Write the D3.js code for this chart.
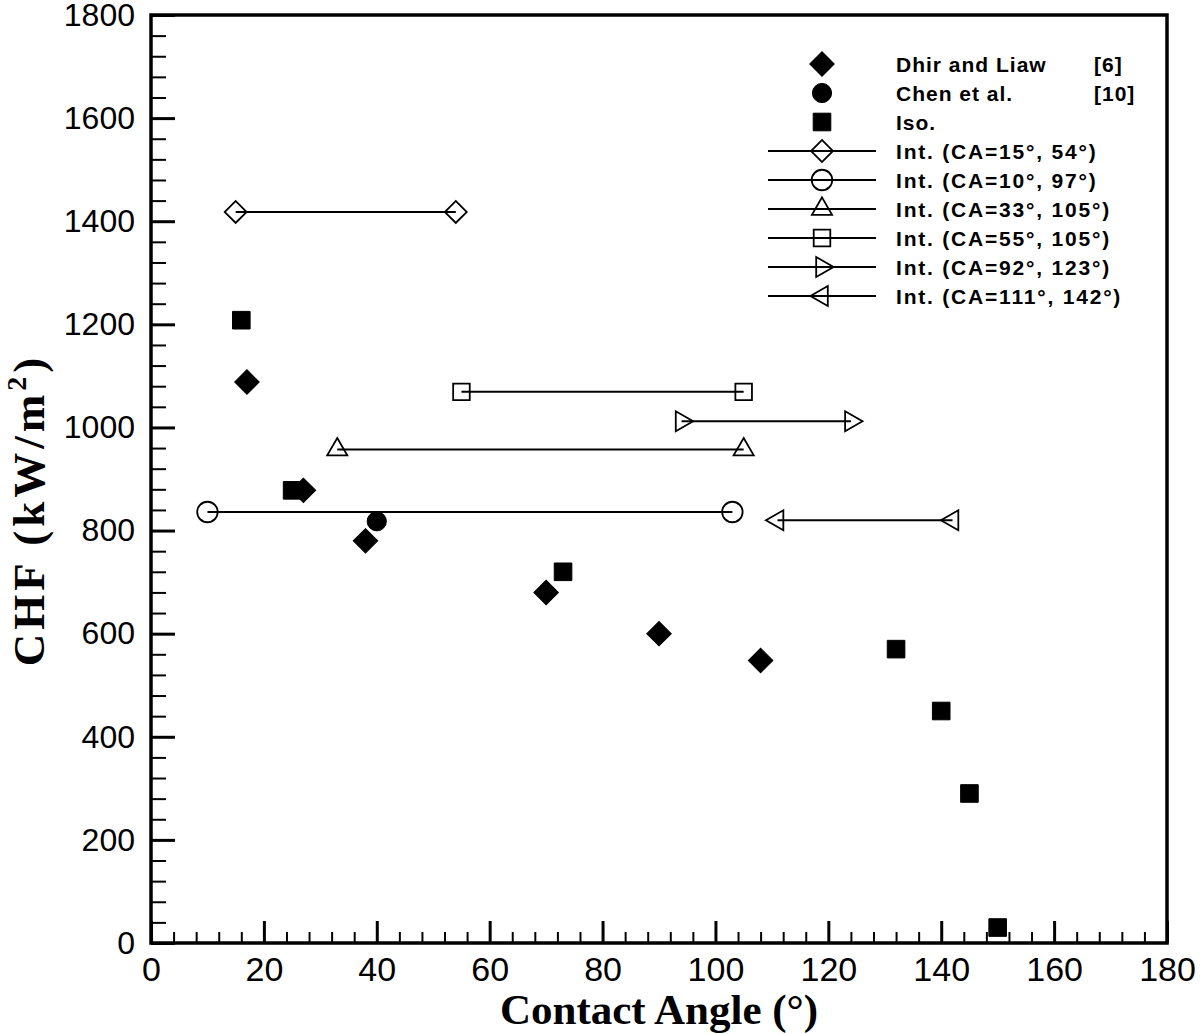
<!DOCTYPE html>
<html><head><meta charset="utf-8">
<script src="https://cdn.jsdelivr.net/npm/d3@7"></script>
<style>
html,body{margin:0;padding:0;background:#fff;}
</style></head>
<body>
<svg id="chart" width="1200" height="1034"></svg>
<script>
// ---- data ----
const xTicks = [0,20,40,60,80,100,120,140,160,180];
const yTicks = [0,200,400,600,800,1000,1200,1400,1600,1800];
const xMinor = d3.range(0,181,4);
const yMinor = d3.range(0,1801,40);

const dhirCA  = [17, 27, 38, 70, 90, 108];
const dhirCHF = [1088, 878, 780, 680, 600, 548];
const chenCA  = [40];
const chenCHF = [818];
const isoCA   = [16, 25, 73, 132, 140, 145, 150];
const isoCHF  = [1208, 878, 720, 570, 450, 290, 30];

const intLabels = ["Int. (CA=15°, 54°)","Int. (CA=10°, 97°)","Int. (CA=33°, 105°)","Int. (CA=55°, 105°)","Int. (CA=92°, 123°)","Int. (CA=111°, 142°)"];
const intLow  = [15, 10, 33, 55, 94, 111];
const intHigh = [54, 103, 105, 105, 124, 142];
const intCHF  = [1418, 836, 957, 1069, 1012, 820];
const intShape = ["diamond","circle","triangle","square","right","left"];

const legendLabels = ["Dhir and Liaw","Chen et al.","Iso."];
const legendRefs = ["[6]","[10]",""];
const legendShape = ["fdiamond","fcircle","fsquare"];

// ---- chart ----
const svg = d3.select("#chart");
const L=151, R=1167, T=15, B=943;
const x = d3.scaleLinear().domain([0,180]).range([L,R]);
const y = d3.scaleLinear().domain([0,1800]).range([B,T]);

function marker(g, shape){
  let p, rot=0, filled=false;
  switch(shape){
    case "fdiamond": p=d3.symbol(d3.symbolSquare,300)(); rot=45; filled=true; break;
    case "fcircle": p=d3.symbol(d3.symbolCircle,290)(); filled=true; break;
    case "fsquare": p=d3.symbol(d3.symbolSquare,310)(); filled=true; break;
    case "diamond": p=d3.symbol(d3.symbolSquare,240)(); rot=45; break;
    case "circle": p=d3.symbol(d3.symbolCircle,330)(); break;
    case "square": p=d3.symbol(d3.symbolSquare,275)(); break;
    case "triangle": p=d3.symbol(d3.symbolTriangle,175)(); break;
    case "right": p=d3.symbol(d3.symbolTriangle,175)(); rot=90; break;
    case "left": p=d3.symbol(d3.symbolTriangle,175)(); rot=-90; break;
  }
  g.append("path").attr("d",p).attr("transform",`rotate(${rot})`)
    .attr("fill", filled?"#000":"none").attr("stroke","#000")
    .attr("stroke-width", filled?1:1.8);
}

// axes
const xMaj = svg.append("g").attr("transform",`translate(0,${B})`)
  .call(d3.axisBottom(x).tickValues(xTicks).tickSize(-22).tickPadding(14).tickFormat(d3.format("d")));
const xMin = svg.append("g").attr("transform",`translate(0,${B})`)
  .call(d3.axisBottom(x).tickValues(xMinor.filter(v=>v%20!==0)).tickSize(-11).tickFormat(""));
const yMaj = svg.append("g").attr("transform",`translate(${L},0)`)
  .call(d3.axisLeft(y).tickValues(yTicks).tickSize(-24).tickPadding(16).tickFormat(d3.format("d")));
const yMin = svg.append("g").attr("transform",`translate(${L},0)`)
  .call(d3.axisLeft(y).tickValues(yMinor.filter(v=>v%200!==0)).tickSize(-15).tickFormat(""));
[xMaj,xMin,yMaj,yMin].forEach(g=>{
  g.select(".domain").remove();
  g.selectAll(".tick line").attr("stroke","#000");
});
xMaj.selectAll(".tick line").attr("stroke-width",3);
yMaj.selectAll(".tick line").attr("stroke-width",3);
xMin.selectAll(".tick line").attr("stroke-width",2);
yMin.selectAll(".tick line").attr("stroke-width",2);
xMaj.selectAll(".tick text").attr("font-family","Liberation Sans, Arial, sans-serif").attr("font-size",34).attr("fill","#000");
yMaj.selectAll(".tick text").attr("font-family","Liberation Sans, Arial, sans-serif").attr("font-size",32).attr("fill","#000");

// frame
svg.append("rect").attr("x",L).attr("y",T).attr("width",R-L).attr("height",B-T)
  .attr("fill","none").attr("stroke","#000").attr("stroke-width",3.5);

// interval lines
intLow.forEach((lo,i)=>{
  svg.append("line").attr("x1",x(lo)).attr("x2",x(intHigh[i]))
    .attr("y1",y(intCHF[i])).attr("y2",y(intCHF[i]))
    .attr("stroke","#000").attr("stroke-width",2);
  [lo,intHigh[i]].forEach(v=>{
    const g=svg.append("g").attr("transform",`translate(${x(v)},${y(intCHF[i])})`);
    marker(g,intShape[i]);
  });
});

// filled points
function pts(ca,chf,shape){
  ca.forEach((v,i)=>{
    const g=svg.append("g").attr("transform",`translate(${x(v)},${y(chf[i])})`);
    marker(g,shape);
  });
}
pts(isoCA,isoCHF,"fsquare");
pts(dhirCA,dhirCHF,"fdiamond");
pts(chenCA,chenCHF,"fcircle");

// legend
const lgX=822, lgY0=64, lgDy=29, txtX=896;
const font="Liberation Sans, Arial, sans-serif";
legendLabels.forEach((t,i)=>{
  const yy=lgY0+i*lgDy;
  marker(svg.append("g").attr("transform",`translate(${lgX},${yy})`),legendShape[i]);
  svg.append("text").attr("x",txtX).attr("y",yy).attr("dy","0.36em")
    .attr("font-family",font).attr("font-weight","bold").attr("font-size",21)
    .attr("letter-spacing","1px").text(t);
  if(legendRefs[i]) svg.append("text").attr("x",1094).attr("y",yy).attr("dy","0.36em")
    .attr("font-family",font).attr("font-weight","bold").attr("font-size",21)
    .attr("letter-spacing","1px").text(legendRefs[i]);
});
intLabels.forEach((t,i)=>{
  const yy=lgY0+(i+3)*lgDy;
  svg.append("line").attr("x1",768).attr("x2",876).attr("y1",yy).attr("y2",yy)
    .attr("stroke","#000").attr("stroke-width",2);
  marker(svg.append("g").attr("transform",`translate(${lgX},${yy})`),intShape[i]);
  svg.append("text").attr("x",txtX).attr("y",yy).attr("dy","0.36em")
    .attr("font-family",font).attr("font-weight","bold").attr("font-size",21)
    .attr("letter-spacing","1.8px").text(t);
});

// axis titles
svg.append("text").attr("x",(L+R)/2).attr("y",1024).attr("text-anchor","middle")
  .attr("font-family","Liberation Serif, Times New Roman, serif").attr("font-weight","bold")
  .attr("font-size",43).text("Contact Angle (°)");
const yt = svg.append("text").attr("transform","translate(44,510) rotate(-90)")
  .attr("text-anchor","middle")
  .attr("font-family","Liberation Serif, Times New Roman, serif").attr("font-weight","bold")
  .attr("font-size",45).attr("letter-spacing","4px");
yt.append("tspan").text("CHF (kW/m");
yt.append("tspan").attr("dy",-18).attr("font-size",28).text("2");
yt.append("tspan").attr("dy",18).text(")");
</script>
</body></html>
